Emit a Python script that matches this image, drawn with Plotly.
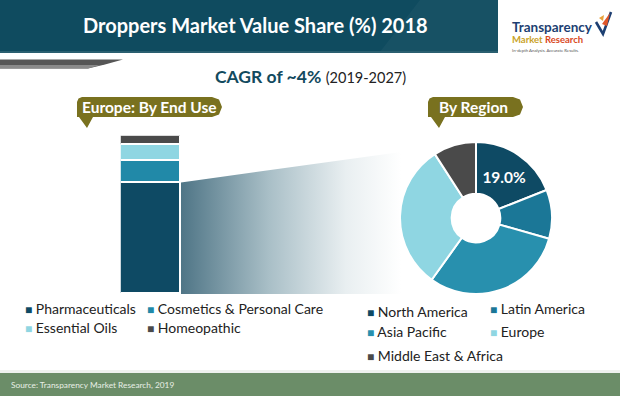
import base64
import plotly.graph_objects as go

# ---------------- data ----------------
end_use = ["Pharmaceuticals", "Cosmetics & Personal Care", "Essential Oils", "Homeopathic"]
end_use_share = [70.5, 14.0, 10.0, 5.5]
end_use_colors = ["#0e4a64", "#2189a8", "#8fd6e2", "#4a4a4a"]
bar_category = ["Europe"]

regions = ["North America", "Latin America", "Asia Pacific", "Europe", "Middle East & Africa"]
region_share = [19.0, 10.4, 30.5, 31.0, 9.1]
region_colors = ["#0e4a64", "#1b7797", "#2890ae", "#8fd6e2", "#4a4a4a"]
region_label_shown = [True, False, False, False, False]

title_text = "Droppers Market Value Share (%) 2018"
cagr_main = "CAGR of ~4%"
cagr_period = "(2019-2027)"
left_label = "Europe: By End Use"
right_label = "By Region"
source_text = "Source: Transparency Market Research, 2019"

W, H = 620, 396
FONT = "Lato, 'Open Sans', sans-serif"


def px(x):
    return x / W


def py(y):
    return 1 - y / H


def path(pts, close=True):
    s = "M" + " L".join(f"{px(x):.5f},{py(y):.5f}" for x, y in pts)
    return s + (" Z" if close else "")


fig = go.Figure()

# ---------------- stacked bar (Europe by end use) ----------------
for name, val, col in zip(end_use, end_use_share, end_use_colors):
    fig.add_trace(go.Bar(
        x=bar_category, y=[val], name=name,
        marker=dict(color=col, line=dict(color="white", width=1.5)),
        showlegend=False, hoverinfo="name+y",
    ))

# ---------------- donut (by region) ----------------
fig.add_trace(go.Pie(
    labels=regions, values=region_share, sort=False, direction="clockwise",
    rotation=0, hole=0.32,
    marker=dict(colors=region_colors, line=dict(color="white", width=2)),
    texttemplate=["%{value:.1f}%" if s else "" for s in region_label_shown],
    textposition="inside", insidetextorientation="horizontal",
    textfont=dict(family=FONT, size=15.5, color="white", weight="bold"),
    domain=dict(x=[px(400), px(552)], y=[py(294), py(142)]),
    showlegend=False,
))

shapes = []
# header banner
shapes.append(dict(type="rect", xref="paper", yref="paper", x0=0, x1=px(498), y0=py(52), y1=1,
                   fillcolor="#0f4b5f", line=dict(width=0), layer="below"))
shapes.append(dict(type="path", xref="paper", yref="paper",
                   path=path([(420, 0), (498, 0), (498, 52), (380, 52)]),
                   fillcolor="rgba(255,255,255,0.035)", line=dict(width=0), layer="below"))
shapes.append(dict(type="rect", xref="paper", yref="paper", x0=0, x1=px(498), y0=py(53), y1=py(51),
                   fillcolor="#2a5f70", line=dict(width=0), layer="below"))
# grey swoosh
shapes.append(dict(type="path", xref="paper", yref="paper",
                   path=path([(0, 59.5), (123, 59.5), (105, 64.5), (88, 68.5), (0, 68.5)]),
                   fillcolor="#565656", line=dict(width=0), layer="below"))
shapes.append(dict(type="path", xref="paper", yref="paper",
                   path=path([(0, 65), (100, 65), (88, 68.5), (0, 68.5)]),
                   fillcolor="#8a8a8a", line=dict(width=0), layer="below"))


def label_box(x0, x1, y0, y1, tail):
    r1, r2 = 5, 10
    pts = [(x0 + r1, y0), (x1 - r2, y0), (x1 - 3, y0 + 2.5), (x1, y0 + r2), (x1 - 3, y1 - 2.5),
           (x1 - r2, y1), (tail[1], y1), (tail[2], tail[3]), (tail[0], y1), (x0, y1),
           (x0, y0 + r1), (x0 + 1.5, y0 + 1.5)]
    return dict(type="path", xref="paper", yref="paper", path=path(pts),
                fillcolor="#79711f", line=dict(width=0), layer="below")


shapes.append(label_box(77, 222, 97, 117, (79, 93, 87, 128)))
shapes.append(label_box(428, 523, 97, 117, (431, 445, 439, 128)))

# logo check mark
shapes.append(dict(type="path", xref="paper", yref="paper",
                   path=path([(596, 22), (603, 34), (611, 12)], close=False),
                   line=dict(color="#1d3f72", width=2.6), fillcolor="rgba(0,0,0,0)"))
shapes.append(dict(type="path", xref="paper", yref="paper",
                   path=path([(602, 24), (610, 13), (607, 26)]),
                   fillcolor="#e0562a", line=dict(width=0)))
shapes.append(dict(type="path", xref="paper", yref="paper",
                   path=path([(599, 18), (604, 15), (603, 21)]),
                   fillcolor="#e9a23b", line=dict(width=0)))

# footer
shapes.append(dict(type="rect", xref="paper", yref="paper", x0=0, x1=1, y0=0, y1=py(373),
                   fillcolor="#6b8d68", line=dict(width=0), layer="below"))
shapes.append(dict(type="rect", xref="paper", yref="paper", x0=0, x1=1, y0=py(373), y1=py(370),
                   fillcolor="#eef1ee", line=dict(width=0), layer="below"))

# gradient projection from bar to donut
svg = ('<svg xmlns="http://www.w3.org/2000/svg" width="220" height="142" viewBox="0 0 220 142" '
       'preserveAspectRatio="none"><defs><linearGradient id="g" x1="0" y1="0" x2="1" y2="0">'
       '<stop offset="0" stop-color="#4f7586"/><stop offset="0.4" stop-color="#a9bfc7"/>'
       '<stop offset="0.75" stop-color="#e9eff1"/><stop offset="1" stop-color="#ffffff"/>'
       '</linearGradient></defs><polygon points="0,30.4 220,0 220,142 0,142" fill="url(#g)"/></svg>')
img_src = "data:image/svg+xml;base64," + base64.b64encode(svg.encode()).decode()
images = [dict(source=img_src, xref="paper", yref="paper", x=px(181), y=py(152),
               sizex=220 / W, sizey=142 / H, xanchor="left", yanchor="top",
               sizing="stretch", layer="below")]

annotations = []


def ann(text, x, y, size, color, xanchor="left", bold=False, family=FONT):
    annotations.append(dict(text=text, x=px(x), y=py(y), xref="paper", yref="paper",
                            xanchor=xanchor, yanchor="middle", showarrow=False,
                            font=dict(family=family, size=size, color=color,
                                      weight="bold" if bold else "normal")))


ann(title_text, 255, 25, 20, "white", xanchor="center", bold=True)
ann(f"<b>{cagr_main}</b> <span style='font-size:14.5px;color:#222;font-weight:normal'>{cagr_period}</span>",
    310, 77, 17.5, "#124a5e", xanchor="center")
ann(left_label, 149, 107, 15.5, "white", xanchor="center", bold=True)
ann(right_label, 473, 107, 15.5, "white", xanchor="center", bold=True)

# logo text
ann("Transparency", 510, 27, 13.5, "#1d3f72", bold=True)
ann("<span style='color:#c9a227'>Market</span> <span style='color:#d9481e'>Research</span>",
    510, 39.5, 9.5, "#c9a227", bold=True)
ann("In-depth Analysis. Accurate Results.", 510, 50, 4.3, "#555555")

# legends
left_pos = [(25, 308), (147, 308), (25, 327), (147, 327)]
for name, col, (x, y) in zip(end_use, end_use_colors, left_pos):
    ann(f"<span style='color:{col};font-size:12px'>■</span> {name}", x - 2, y, 14, "#222222")
right_pos = [(367, 311), (490, 308), (367, 331), (490, 331), (367, 355)]
for name, col, (x, y) in zip(regions, region_colors, right_pos):
    ann(f"<span style='color:{col};font-size:12px'>■</span> {name}", x - 2, y, 14, "#222222")

ann(source_text, 9, 385, 8.3, "#e8efe6")

fig.update_layout(
    width=W, height=H, margin=dict(l=0, r=0, t=0, b=0),
    paper_bgcolor="white", plot_bgcolor="rgba(0,0,0,0)",
    barmode="stack", bargap=0,
    xaxis=dict(domain=[px(120.7), px(180.7)], range=[-0.5, 0.5], visible=False, fixedrange=True),
    yaxis=dict(domain=[py(294), py(135.7)], range=[0, 100], visible=False, fixedrange=True),
    shapes=shapes, annotations=annotations, images=images,
    font=dict(family=FONT), showlegend=False,
)

fig.write_html("out.html", config={"displayModeBar": False},
               post_script="document.body.style.margin='0';document.body.style.padding='0';")
